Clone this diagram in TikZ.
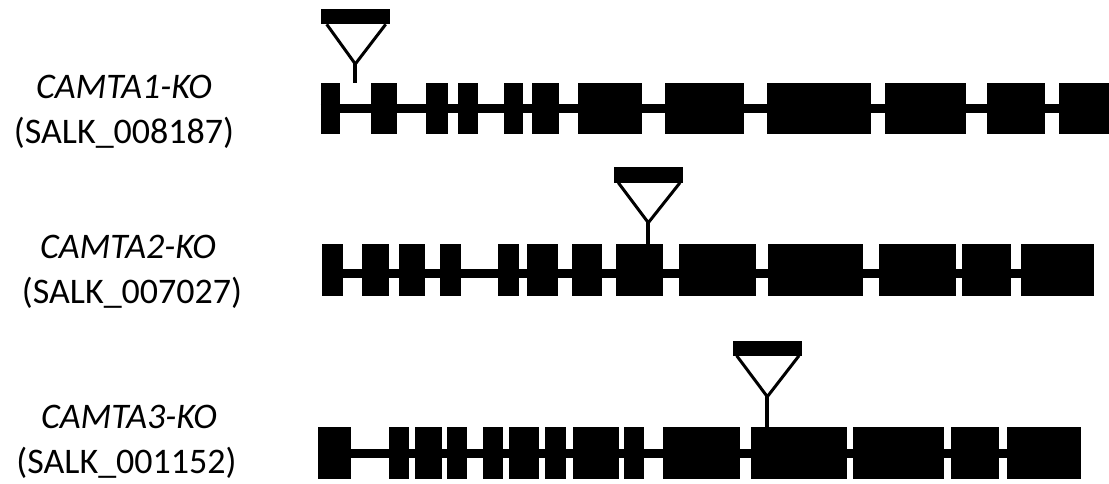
\documentclass[tikz,border=0pt]{standalone}
\usepackage{fontspec}
\setmainfont{Carlito}
\begin{document}
\begin{tikzpicture}[x=1pt,y=-1pt]
\tikzset{intron/.style={line width=9pt},
  tdna/.style={line width=3pt},
  stem/.style={line width=4pt},
  genename/.style={anchor=base,inner sep=0pt,font=\fontsize{36}{43}\selectfont\itshape},
  salk/.style={anchor=base,inner sep=0pt,font=\fontsize{36}{43}\selectfont}}
\useasboundingbox (0,0) rectangle (1109,484);
% CAMTA1
\node[genename] (ko1) at (124,99) {CAMTA1-KO};
\node[salk] (salk1) at (124,144) {(SALK\_008187)};
\draw[intron] (320.7,108.5) -- (1109,108.5);
\foreach \a/\b in {320.7/340,370.7/396.7,425.7/448.3,457.7/478.3,504/523.3,532.3/559,577.7/642.3,665/743.7,766.7/871,885/965.7,986.7/1045,1059.3/1109}
  \fill (\a,83) rectangle (\b,134);
\fill (320.7,9) rectangle (390,24.3);
\draw[tdna] (326.7,24.3) -- (355.3,64) -- (385.7,24.3);
\draw[stem] (355.3,63) -- (355.3,83);
% CAMTA2
\node[genename] (ko2) at (128,258) {CAMTA2-KO};
\node[salk] (salk2) at (132,303) {(SALK\_007027)};
\draw[intron] (322.3,273) -- (1094.3,273);
\foreach \a/\b in {322.3/342.7,362.3/388.7,398.7/425.3,440/460.7,498.3/519,526.7/557.7,571.7/602,615.7/663.3,679/756,768.3/863.3,879.3/956.3,962.3/1011.3,1020.7/1094.3}
  \fill (\a,244) rectangle (\b,296);
\fill (614.3,166.7) rectangle (682.7,182.7);
\draw[tdna] (618.3,182.7) -- (648.3,222.7) -- (680,182.7);
\draw[stem] (648.3,221.7) -- (648.3,244);
% CAMTA3
\node[genename] (ko3) at (129,428) {CAMTA3-KO};
\node[salk] (salk3) at (126.5,473) {(SALK\_001152)};
\draw[intron] (318.3,453.7) -- (1080.7,453.7);
\foreach \a/\b in {318.3/351,389.3/409.3,415/441.7,446.7/466.7,483/503.3,509.3/539.3,545.3/565.7,573.3/619.3,624/644.3,662.7/740,750.7/847.3,852.7/944.3,950.7/999.3,1007.3/1080.7}
  \fill (\a,427.3) rectangle (\b,479);
\fill (733.3,341) rectangle (801.7,355.7);
\draw[tdna] (736.7,355.7) -- (767.3,396.7) -- (799,355.7);
\draw[stem] (767.3,395.7) -- (767.3,427.3);
\end{tikzpicture}
\end{document}
